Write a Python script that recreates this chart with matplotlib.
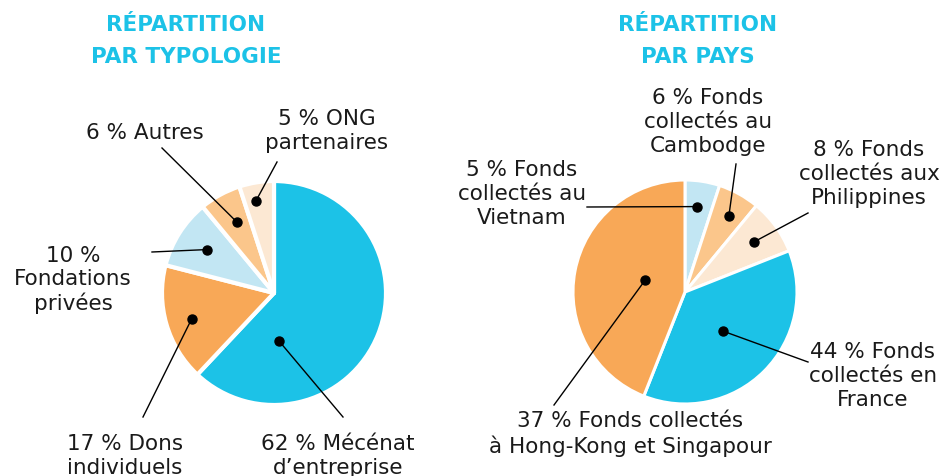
import matplotlib.pyplot as plt
import numpy as np

W, H = 944, 476

# ---------------- data ----------------
left_title = "RÉPARTITION\nPAR TYPOLOGIE"
left_labels = ["62 % Mécénat\nd’entreprise", "17 % Dons\nindividuels",
               "10 %\nFondations\nprivées", "6 % Autres", "5 % ONG\npartenaires"]
left_values = [62, 17, 10, 6, 5]

right_title = "RÉPARTITION\nPAR PAYS"
right_labels = ["5 % Fonds\ncollectés au\nVietnam", "6 % Fonds\ncollectés au\nCambodge",
                "8 % Fonds\ncollectés aux\nPhilippines", "44 % Fonds\ncollectés en\nFrance",
                "37 % Fonds collectés\nà Hong-Kong et Singapour"]
# slice sizes as drawn in the picture
right_values = [5, 6, 8, 37, 44]

# ---------------- style / layout ----------------
CYAN = "#1cc2e7"
ORANGE = "#f8a857"
LBLUE = "#c2e6f3"
LORANGE = "#fbc68b"
PEACH = "#fce8d3"
left_colors = [CYAN, ORANGE, LBLUE, LORANGE, PEACH]
right_colors = [LBLUE, LORANGE, PEACH, CYAN, ORANGE]

# layout in pixel coords (top-down)
left_center = (274, 293)
right_center = (685, 292)
radius = 112

left_dot = [(0.78, 0.43), (0.48, 0.77), (0.52, 0.71), (0.56, 0.71), (0.39, 0.84)]
left_text = [(338, 456), (125, 456), (73, 280), (145, 133), (327, 131)]
left_end = [(343, 417), (143, 417), (152, 252), (162, 148), (277, 162)]

right_dot = [(0.44, 0.77), (0.56, 0.78), (0.5, 0.76), (0.505, 0.49), (0.54, 0.37)]
right_text = [(522, 194), (708, 122), (869, 174), (873, 376), (630, 434)]
right_end = [(587, 207), (736, 164), (808, 213), (808, 362), (554, 405)]

fig = plt.figure(figsize=(W / 100, H / 100), dpi=100)
ax = fig.add_axes([0, 0, 1, 1])


def yy(y):
    return H - y


def draw(values, colors, labels, center, dots, texts, ends, title, title_x, lw):
    cx, cy = center[0], yy(center[1])
    ax.pie(values, colors=colors, startangle=90, counterclock=False,
           center=(cx, cy), radius=radius,
           wedgeprops=dict(edgecolor="white", linewidth=lw, joinstyle="round"))
    total = float(sum(values))
    start = 90.0
    for v, lab, (f, rf), (tx, ty), (ex, ey) in zip(values, labels, dots, texts, ends):
        span = 360.0 * v / total
        ang = np.deg2rad(start - f * span)
        dx = cx + rf * radius * np.cos(ang)
        dy = cy + rf * radius * np.sin(ang)
        ax.plot([dx, ex], [dy, yy(ey)], color="black", lw=1.0, zorder=5)
        ax.plot([dx], [dy], "o", color="black", ms=6.5, zorder=6)
        ax.text(tx, yy(ty), lab, ha="center", va="center", fontsize=15.5,
                linespacing=1.22, color="#1a1a1a", family="DejaVu Sans")
        start -= span
    ax.text(title_x, yy(41), title, ha="center", va="center", fontsize=15.5,
            fontweight="bold", color=CYAN, linespacing=1.72, family="DejaVu Sans")


draw(left_values, left_colors, left_labels, left_center, left_dot, left_text,
     left_end, left_title, 186, 3.0)
draw(right_values, right_colors, right_labels, right_center, right_dot, right_text,
     right_end, right_title, 698, 2.2)

ax.set_xlim(0, W)
ax.set_ylim(0, H)
ax.set_aspect("equal")
ax.axis("off")

fig.savefig("out.png", dpi=100, facecolor="white")
